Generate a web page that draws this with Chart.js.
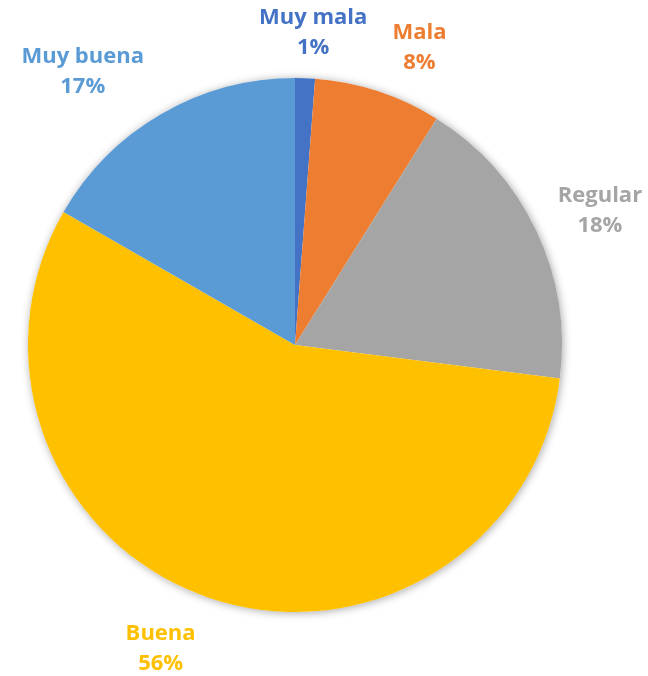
<!DOCTYPE html>
<html>
<head>
<meta charset="utf-8">
<script src="https://cdn.jsdelivr.net/npm/chart.js@4"></script>
<style>
	body { margin: 0; background: #fff; }
	canvas { display: block; }
</style>
</head>
<body>
<canvas id="pieCanvas" width="648" height="676"></canvas>
<script>
////////////data////////////
var categories = ["Muy mala", "Mala", "Regular", "Buena", "Muy buena"];
var values = [1.2, 7.7, 18.1, 56.3, 16.7];
var percentLabels = ["1%", "8%", "18%", "56%", "17%"];
var sliceColors = ["#4472C4", "#ED7D31", "#A5A5A5", "#FFC000", "#5B9BD5"];

////////////plugins////////////
//soft shadow behind the whole pie
var pieShadow = {
	id: 'pieShadow',
	beforeDatasetsDraw: function(chart) {
		var arc = chart.getDatasetMeta(0).data[0];
		if (!arc) return;
		var ctx = chart.ctx;
		ctx.save();
		ctx.shadowColor = 'rgba(0,0,0,0.35)';
		ctx.shadowBlur = 9;
		ctx.shadowOffsetX = 1;
		ctx.shadowOffsetY = 1;
		ctx.fillStyle = '#fff';
		ctx.beginPath();
		ctx.arc(arc.x, arc.y, arc.outerRadius, 0, Math.PI * 2);
		ctx.fill();
		ctx.restore();
	}
};

//outside labels, name + percent, coloured like the slice
var outsideLabels = {
	id: 'outsideLabels',
	afterDatasetsDraw: function(chart, args, opts) {
		var ctx = chart.ctx;
		var meta = chart.getDatasetMeta(0);
		ctx.save();
		ctx.font = 'bold 22px "Open Sans", sans-serif';
		ctx.textAlign = 'center';
		ctx.textBaseline = 'middle';
		meta.data.forEach(function(arc, i) {
			var mid = (arc.startAngle + arc.endAngle) / 2;
			var dist = arc.outerRadius + opts.gap;
			var nudge = opts.nudge[i] || [0, 0];
			var x = arc.x + Math.cos(mid) * dist + nudge[0];
			var y = arc.y + Math.sin(mid) * dist + nudge[1];
			ctx.fillStyle = sliceColors[i];
			ctx.fillText(categories[i], x, y - 15);
			ctx.fillText(percentLabels[i], x, y + 15);
		});
		ctx.restore();
	}
};

////////////create chart////////////
var myChart = new Chart(document.getElementById("pieCanvas"), {
	type: 'pie',
	data: {
		labels: categories,
		datasets: [{
			data: values,
			backgroundColor: sliceColors,
			borderWidth: 0
		}]
	},
	options: {
		responsive: false,
		animation: false,
		layout: {
			padding: { left: 28, right: 86, top: 78, bottom: 64 }
		},
		plugins: {
			legend: { display: false },
			tooltip: { enabled: false },
			outsideLabels: {
				gap: 55,
				nudge: [[6, 10], [24, 9], [14, 4], [-32, -2], [-51, 5]]
			}
		}
	},
	plugins: [pieShadow, outsideLabels]
}); //end new Chart
</script>
</body>
</html>
